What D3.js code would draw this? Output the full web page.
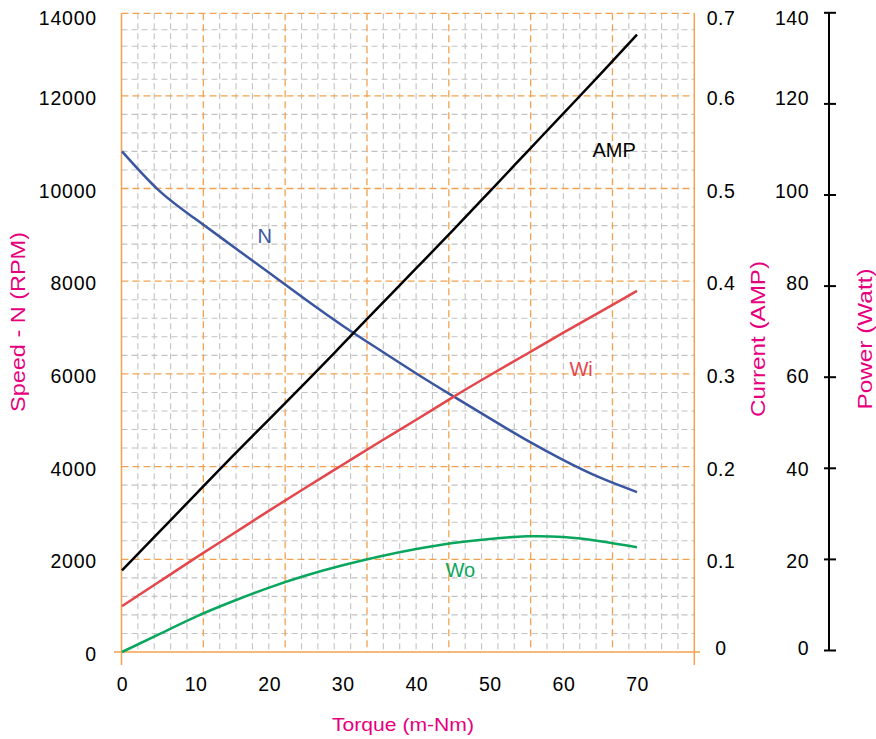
<!DOCTYPE html>
<html>
<head>
<meta charset="utf-8">
<script src="https://cdn.jsdelivr.net/npm/d3@7"></script>
<style>
  html, body { margin: 0; padding: 0; background: #fff; }
  svg { display: block; }
  text { font-family: Helvetica, "Liberation Sans", Arial, sans-serif; }
</style>
</head>
<body>
<svg id="chart" width="876" height="739"></svg>
<script>
// ---- data ----
const torque   = [0, 5, 10, 15, 20, 25, 30, 35, 40, 45, 50, 55, 60, 65, 70];
const speedN   = [10800, 9960, 9340, 8760, 8180, 7600, 7040, 6520, 6010, 5520, 5040, 4570, 4140, 3760, 3450];
const currentA = [0.088, 0.129, 0.170, 0.211, 0.251, 0.291, 0.332, 0.373, 0.414, 0.455, 0.497, 0.539, 0.581, 0.623, 0.666];
const powerWi  = [9.9, 15.1, 20.3, 25.4, 30.5, 35.5, 40.4, 45.3, 50.1, 55.0, 59.7, 64.3, 68.9, 73.4, 77.9];
const powerWo  = [0, 3.8, 7.6, 10.9, 13.9, 16.5, 18.7, 20.6, 22.2, 23.5, 24.4, 24.95, 24.8, 23.9, 22.6];

const xTicks       = [0, 10, 20, 30, 40, 50, 60, 70];
const speedTicks   = [0, 2000, 4000, 6000, 8000, 10000, 12000, 14000];
const currentTicks = [0, 0.1, 0.2, 0.3, 0.4, 0.5, 0.6, 0.7];
const powerTicks   = [0, 20, 40, 60, 80, 100, 120, 140];

const curveLabels = [
  { text: "N",   t: 19.4, v: 8980,  color: "#3b56a1", axis: "speed" },
  { text: "AMP", t: 66.9, v: 0.5415, color: "#000000", axis: "current" },
  { text: "Wi",  t: 62.4, v: 61.0,  color: "#e3474b", axis: "power" },
  { text: "Wo",  t: 46.0, v: 17.7,  color: "#0aa65e", axis: "power" }
];

// ---- layout ----
const svg = d3.select("#chart");
const plotLeft = 121.5, plotRight = 694.3, plotTop = 13.3, plotBottom = 652;
const bandPx = 92.7; // pixel height of 2000 RPM

const x = d3.scaleLinear().domain([0, 70]).range([122, 637]);
const ySpeed = d3.scaleLinear().domain([0, 14000]).range([plotBottom, plotBottom - 7 * bandPx]);
const yCurrent = d3.scaleLinear().domain([0, 0.7]).range([plotBottom, plotBottom - 7 * bandPx]);
const yPower = d3.scaleLinear().domain([0, 140]).range([plotBottom, plotBottom - 7 * bandPx]);
const yPowerAxis = d3.scaleLinear().domain([0, 140]).range([650, 12.3]);

const ORANGE = "#f2a24e", GRAY = "#c2c2c2", PINK = "#e6007e";

// ---- grid ----
const grid = svg.append("g");
const colStep = (plotRight - plotLeft) / 7;
const vLines = d3.range(1, 35).map(i => ({ x: plotLeft + i * colStep / 5, major: i % 5 === 0 }));
const hVals = d3.range(400, 12001, 400);
let hLines = hVals.map(v => ({ y: ySpeed(v), major: v % 2000 === 0 }));
const y12 = ySpeed(12000);
for (let k = 1; k <= 4; k++) hLines.push({ y: y12 + (plotTop - y12) * k / 5, major: false });
hLines.push({ y: plotTop, major: true });

function drawGrid(major) {
  grid.selectAll(null).data(vLines.filter(d => d.major === major)).enter().append("line")
    .attr("x1", d => d.x).attr("x2", d => d.x).attr("y1", plotTop).attr("y2", plotBottom)
    .attr("stroke", major ? ORANGE : GRAY).attr("stroke-width", major ? 1.3 : 1.1)
    .attr("stroke-dasharray", major ? "7,4" : "6,4");
  grid.selectAll(null).data(hLines.filter(d => d.major === major)).enter().append("line")
    .attr("x1", plotLeft).attr("x2", plotRight).attr("y1", d => d.y).attr("y2", d => d.y)
    .attr("stroke", major ? ORANGE : GRAY).attr("stroke-width", major ? 1.3 : 1.1)
    .attr("stroke-dasharray", major ? "7,4" : "6,4");
}
drawGrid(false);
drawGrid(true);

// borders
const border = svg.append("g").attr("stroke", ORANGE).attr("stroke-width", 1.5);
border.append("line").attr("x1", plotLeft).attr("x2", plotLeft).attr("y1", plotTop).attr("y2", 665);
border.append("line").attr("x1", plotRight).attr("x2", plotRight).attr("y1", plotTop).attr("y2", 665);
border.append("line").attr("x1", 114).attr("x2", 700).attr("y1", plotBottom).attr("y2", plotBottom);

// ---- curves ----
const series = [
  { vals: speedN,   y: ySpeed,   color: "#3b56a1" },
  { vals: currentA, y: yCurrent, color: "#000000" },
  { vals: powerWi,  y: yPower,   color: "#e3474b" },
  { vals: powerWo,  y: yPower,   color: "#0aa65e" }
];
series.forEach(s => {
  const line = d3.line().x((d, i) => x(torque[i])).y(d => s.y(d)).curve(d3.curveNatural);
  svg.append("path").datum(s.vals).attr("d", line)
    .attr("fill", "none").attr("stroke", s.color).attr("stroke-width", 2.5);
});

// curve labels
const scaleFor = { speed: ySpeed, current: yCurrent, power: yPower };
svg.selectAll(null).data(curveLabels).enter().append("text")
  .attr("x", d => x(d.t)).attr("y", d => scaleFor[d.axis](d.v))
  .attr("text-anchor", "middle").attr("dominant-baseline", "central")
  .attr("font-size", 20).attr("fill", d => d.color).text(d => d.text);

// ---- axes labels ----
const tickFont = 19.5;
function labelY(yPix, isRight) {
  let y = Math.max(yPix, plotTop + 3) + 2;
  if (isRight) y = Math.min(y, plotBottom - 4);
  return y;
}

// x axis
const xAxis = d3.axisBottom(x).tickValues(xTicks).tickSize(0).tickPadding(0).tickFormat(d3.format("d"));
const gx = svg.append("g").attr("transform", `translate(0,${684})`).call(xAxis);
gx.select(".domain").remove();
gx.selectAll("text").attr("font-size", tickFont).attr("fill", "#000")
  .attr("dy", null).attr("dominant-baseline", "central").attr("letter-spacing", 0.5)
  .style("font-family", 'Helvetica, "Liberation Sans", Arial, sans-serif');

// left speed labels
svg.append("g").selectAll("text").data(speedTicks).enter().append("text")
  .attr("x", 97).attr("y", d => labelY(ySpeed(d), false))
  .attr("text-anchor", "end").attr("dominant-baseline", "central")
  .attr("font-size", tickFont).attr("letter-spacing", 0.8).text(d => d);

// right current labels
svg.append("g").selectAll("text").data(currentTicks).enter().append("text")
  .attr("x", 721).attr("y", d => labelY(yCurrent(d), true))
  .attr("text-anchor", "middle").attr("dominant-baseline", "central")
  .attr("font-size", tickFont).attr("letter-spacing", 0.5).text(d => d3.format("~g")(d));

// power axis (tick marks use their own scale)
const pAxis = d3.axisRight(yPowerAxis).tickValues(powerTicks).tickSize(7).tickFormat("");
const gp = svg.append("g").attr("transform", "translate(829,0)").call(pAxis);
gp.select(".domain").attr("stroke", "#000").attr("stroke-width", 2).attr("d", `M0,${yPowerAxis(0)}V${yPowerAxis(140)}`);
gp.selectAll(".tick line").attr("x1", -5).attr("x2", 7).attr("stroke", "#000").attr("stroke-width", 2);

svg.append("g").selectAll("text").data(powerTicks).enter().append("text")
  .attr("x", 809).attr("y", d => labelY(yPower(d), true))
  .attr("text-anchor", "end").attr("dominant-baseline", "central")
  .attr("font-size", tickFont).attr("letter-spacing", 0.5).text(d => d);

// ---- titles ----
svg.append("text").attr("x", 403).attr("y", 724).attr("text-anchor", "middle")
  .attr("dominant-baseline", "central").attr("font-size", 19).attr("fill", PINK)
  .attr("textLength", 142).attr("lengthAdjust", "spacingAndGlyphs").text("Torque (m-Nm)");

function vTitle(txt, cx, cy, len) {
  svg.append("text").attr("transform", `translate(${cx},${cy}) rotate(-90)`)
    .attr("text-anchor", "middle").attr("dominant-baseline", "central")
    .attr("font-size", 20).attr("fill", PINK)
    .attr("textLength", len).attr("lengthAdjust", "spacingAndGlyphs").text(txt);
}
vTitle("Speed - N (RPM)", 18, 322, 180);
vTitle("Current  (AMP)", 758, 339, 156);
vTitle("Power  (Watt)", 865, 339, 141);
</script>
</body>
</html>
